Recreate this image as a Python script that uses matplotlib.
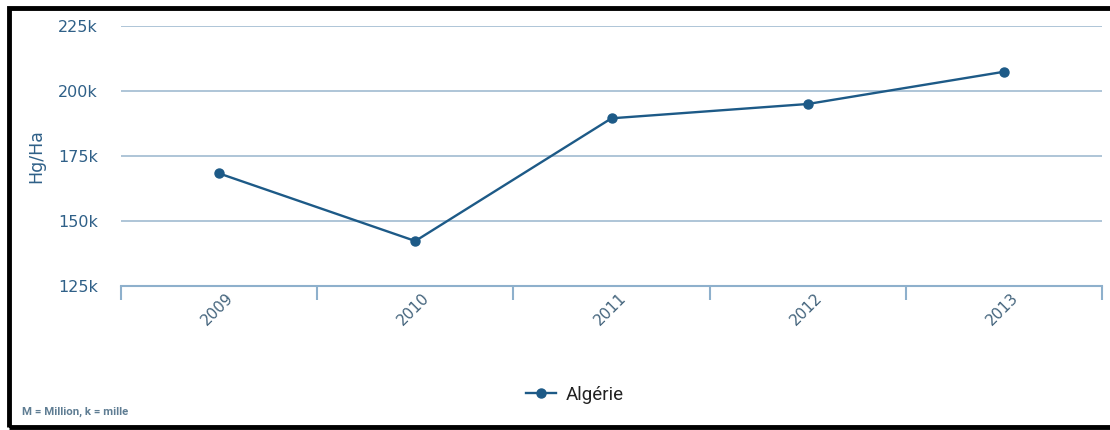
import matplotlib.pyplot as plt
from matplotlib.patches import Rectangle
from matplotlib.transforms import ScaledTranslation
from matplotlib.ticker import FuncFormatter

# Données
annees = ["2009", "2010", "2011", "2012", "2013"]
rendement = [168300, 142300, 189500, 195000, 207400]
serie = "Algérie"
y_ticks = [125000, 150000, 175000, 200000, 225000]

bleu = "#1d5a87"
bleu_texte = "#2f6088"
grille = "#a8c0d4"

fig = plt.figure(figsize=(11.1, 4.3), dpi=100)
ax = fig.add_axes([121 / 1110, 1 - 286 / 430, 981 / 1110, 260 / 430])

x = list(range(len(annees)))
ax.plot(x, rendement, color=bleu, lw=1.7, marker="o", markersize=6.5, label=serie, zorder=3)

ax.set_xlim(-0.5, len(annees) - 0.5)
ax.set_ylim(125000, 225000)
ax.set_yticks(y_ticks)
ax.yaxis.set_major_formatter(FuncFormatter(lambda v, p: "%dk" % (v / 1000)))
ax.tick_params(axis="y", length=0, pad=16.5, labelsize=11.5, labelcolor=bleu_texte)
ax.grid(axis="y", color=grille, lw=1.3)
ax.set_axisbelow(True)

# ticks aux limites des catégories, étiquettes au centre
ax.set_xticks([i - 0.5 for i in range(len(annees) + 1)])
ax.set_xticklabels([])
ax.tick_params(axis="x", which="major", length=10, width=1.5, color="#8eb0cc", direction="out")
ax.set_xticks(x, minor=True)
ax.set_xticklabels(annees, minor=True, rotation=45, ha="right", va="center",
                   rotation_mode="anchor", fontsize=11, color="#45657d")
ax.tick_params(axis="x", which="minor", length=0, pad=7)
decal = ScaledTranslation(12 / 100, 0, fig.dpi_scale_trans)
for lab in ax.get_xticklabels(minor=True):
    lab.set_transform(lab.get_transform() + decal)

for s in ["top", "right", "left"]:
    ax.spines[s].set_visible(False)
ax.spines["bottom"].set_color("#8eb0cc")
ax.spines["bottom"].set_linewidth(1.5)

ax.set_ylabel("Hg/Ha", color=bleu_texte, fontsize=12.5)
ax.yaxis.set_label_coords(-76 / 981, 0.5)

fig.legend(loc="center", bbox_to_anchor=(575 / 1110, 1 - 395 / 430), frameon=False,
           prop={"family": "Roboto", "size": 13.5}, handlelength=1.6, handletextpad=0.5,
           labelcolor="#222222")

fig.text(22 / 1110, 1 - 412 / 430, "M = Million, k = mille", fontsize=8.2, family="Roboto",
         weight="bold", color="#5f7d93", va="center")

# cadre noir
fig.patches.append(Rectangle((9 / 1110, 3 / 430), 1.2, 1 - 11 / 430, transform=fig.transFigure,
                             fill=False, ec="black", lw=3.5))

fig.savefig("out.png", dpi=100)
